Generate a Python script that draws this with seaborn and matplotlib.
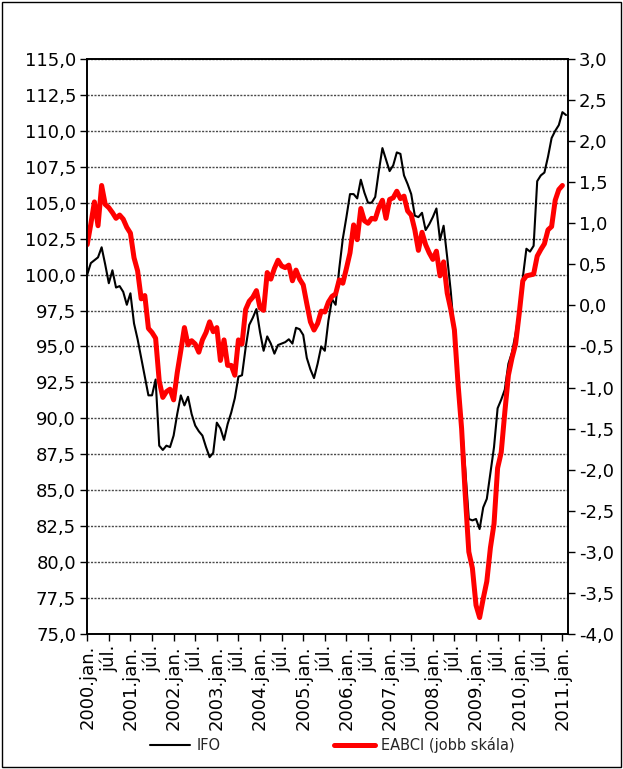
import numpy as np
import pandas as pd
import matplotlib
matplotlib.use("Agg")
import matplotlib.pyplot as plt
from matplotlib.lines import Line2D
from matplotlib.patches import Rectangle
import seaborn as sns

# Monthly series: IFO January 2000 - February 2011, EABCI January 2000 - January 2011
ifo = [
    100.0, 100.8, 101.0, 101.2, 101.9, 100.7, 99.4, 100.3, 99.1, 99.2, 98.8, 97.9,
    98.7, 96.6, 95.5, 94.2, 92.9, 91.6, 91.6, 92.7, 88.1, 87.8, 88.1, 88.0,
    88.8, 90.3, 91.6, 90.9, 91.5, 90.3, 89.5, 89.1, 88.8, 88.0, 87.3, 87.6,
    89.7, 89.3, 88.5, 89.6, 90.4, 91.4, 92.9, 93.0, 94.9, 96.5, 97.0, 97.6,
    96.0, 94.7, 95.7, 95.2, 94.5, 95.1, 95.2, 95.3, 95.5, 95.2, 96.3, 96.2,
    95.8, 94.2, 93.4, 92.8, 93.8, 95.0, 94.7, 96.8, 98.3, 97.9, 100.4, 102.5,
    104.0, 105.6, 105.6, 105.3, 106.6, 105.7, 105.0, 105.0, 105.4, 107.2, 108.8, 108.0,
    107.2, 107.6, 108.5, 108.4, 106.9, 106.3, 105.6, 104.1, 104.0, 104.3, 103.1, 103.5,
    104.0, 104.6, 102.4, 103.4, 101.2, 98.8, 95.8, 92.7, 89.8, 86.5, 83.0, 82.9,
    83.0, 82.3, 83.8, 84.4, 86.2, 88.0, 90.7, 91.3, 92.0, 93.8, 94.6, 95.9,
    97.5, 99.8, 101.8, 101.6, 102.0, 106.5, 106.9, 107.1, 108.2, 109.5, 110.0, 110.4,
    111.3, 111.1,
]
eabci = [
    0.74, 0.99, 1.26, 0.97, 1.46, 1.23, 1.19, 1.13, 1.06, 1.10, 1.05, 0.95,
    0.88, 0.58, 0.42, 0.08, 0.12, -0.28, -0.33, -0.40, -0.92, -1.12, -1.05, -1.02,
    -1.15, -0.82, -0.55, -0.27, -0.48, -0.43, -0.47, -0.57, -0.42, -0.33, -0.20, -0.32,
    -0.27, -0.67, -0.42, -0.73, -0.73, -0.85, -0.42, -0.47, -0.05, 0.05, 0.10, 0.18,
    -0.03, -0.06, 0.40, 0.32, 0.45, 0.55, 0.48, 0.46, 0.49, 0.30, 0.43, 0.32,
    0.25, 0.02, -0.20, -0.30, -0.22, -0.07, -0.08, 0.04, 0.11, 0.14, 0.31, 0.27,
    0.45, 0.64, 0.98, 0.80, 1.18, 1.03, 1.00, 1.06, 1.05, 1.19, 1.28, 1.06,
    1.29, 1.31, 1.39, 1.30, 1.33, 1.15, 1.10, 0.92, 0.67, 0.89, 0.74, 0.64,
    0.56, 0.66, 0.36, 0.53, 0.15, -0.05, -0.30, -0.95, -1.50, -2.30, -3.00, -3.20,
    -3.65, -3.80, -3.57, -3.36, -2.95, -2.66, -1.98, -1.79, -1.30, -0.85, -0.64, -0.47,
    -0.10, 0.30, 0.36, 0.37, 0.38, 0.60, 0.68, 0.75, 0.92, 0.96, 1.28, 1.41,
    1.46,
]
tick_months = list(range(0, 133, 6))
tick_labels = [f"{2000 + m // 12}.jan." if m % 12 == 0 else "júl." for m in tick_months]
left_ticks = np.arange(75.0, 115.01, 2.5)
right_ticks = np.arange(-4.0, 3.01, 0.5)

n = len(ifo)
df = pd.DataFrame({
    "month": np.arange(n),
    "IFO": ifo,
    "EABCI": eabci + [np.nan] * (n - len(eabci)),
})

sns.set_theme(style="white")
plt.rcParams["font.family"] = ["DejaVu Sans"]

fig = plt.figure(figsize=(6.23, 7.69), dpi=100)
ax = fig.add_axes([0.14, 0.1756, 0.7717, 0.7477])
ax2 = ax.twinx()

sns.lineplot(data=df, x="month", y="IFO", ax=ax, color="black", linewidth=1.5)
sns.lineplot(data=df.dropna(), x="month", y="EABCI", ax=ax2, color="#ff0000",
             linewidth=3.6, solid_joinstyle="round")

ax.set_xlim(0, 133.55)
ax.set_ylim(75, 115)
ax2.set_ylim(-4, 3)

def comma(v):
    return f"{v:.1f}".replace(".", ",")

ax.set_yticks(left_ticks)
ax.set_yticklabels([comma(v) for v in left_ticks], fontsize=13)
ax2.set_yticks(right_ticks)
ax2.set_yticklabels([comma(v) for v in right_ticks], fontsize=13)
ax.set_xticks(tick_months)
ax.set_xticklabels(tick_labels, rotation=90, fontsize=13, ha="center", va="top")

ax.set_xlabel("")
ax.set_ylabel("")
ax2.set_ylabel("")

for a in (ax, ax2):
    for s in a.spines.values():
        s.set_color("black")
        s.set_linewidth(1.2)
    a.tick_params(axis="both", which="major", direction="out", length=5, width=1,
                  color="black", labelcolor="black", pad=3)
ax.tick_params(axis="y", left=True, right=False)
ax2.tick_params(axis="y", right=True, left=False)
ax.tick_params(axis="x", bottom=True)

ax.yaxis.grid(True, color="#4a4a4a", linestyle=(0, (1.5, 1)), linewidth=1.0)
ax.xaxis.grid(False)
ax.set_axisbelow(True)

handles = [
    Line2D([], [], color="black", linewidth=1.5),
    Line2D([], [], color="#ff0000", linewidth=3.6),
]
fig.legend(handles, ["IFO", "EABCI (jobb skála)"], loc="center",
           bbox_to_anchor=(0.533, 0.031), ncol=2, frameon=False, fontsize=10.5,
           handlelength=2.8, handletextpad=0.4, columnspacing=7.8)

fig.patches.append(Rectangle((0.003, 0.002), 0.994, 0.996, transform=fig.transFigure,
                             fill=False, edgecolor="black", linewidth=1))

fig.savefig("out.png", dpi=100)
